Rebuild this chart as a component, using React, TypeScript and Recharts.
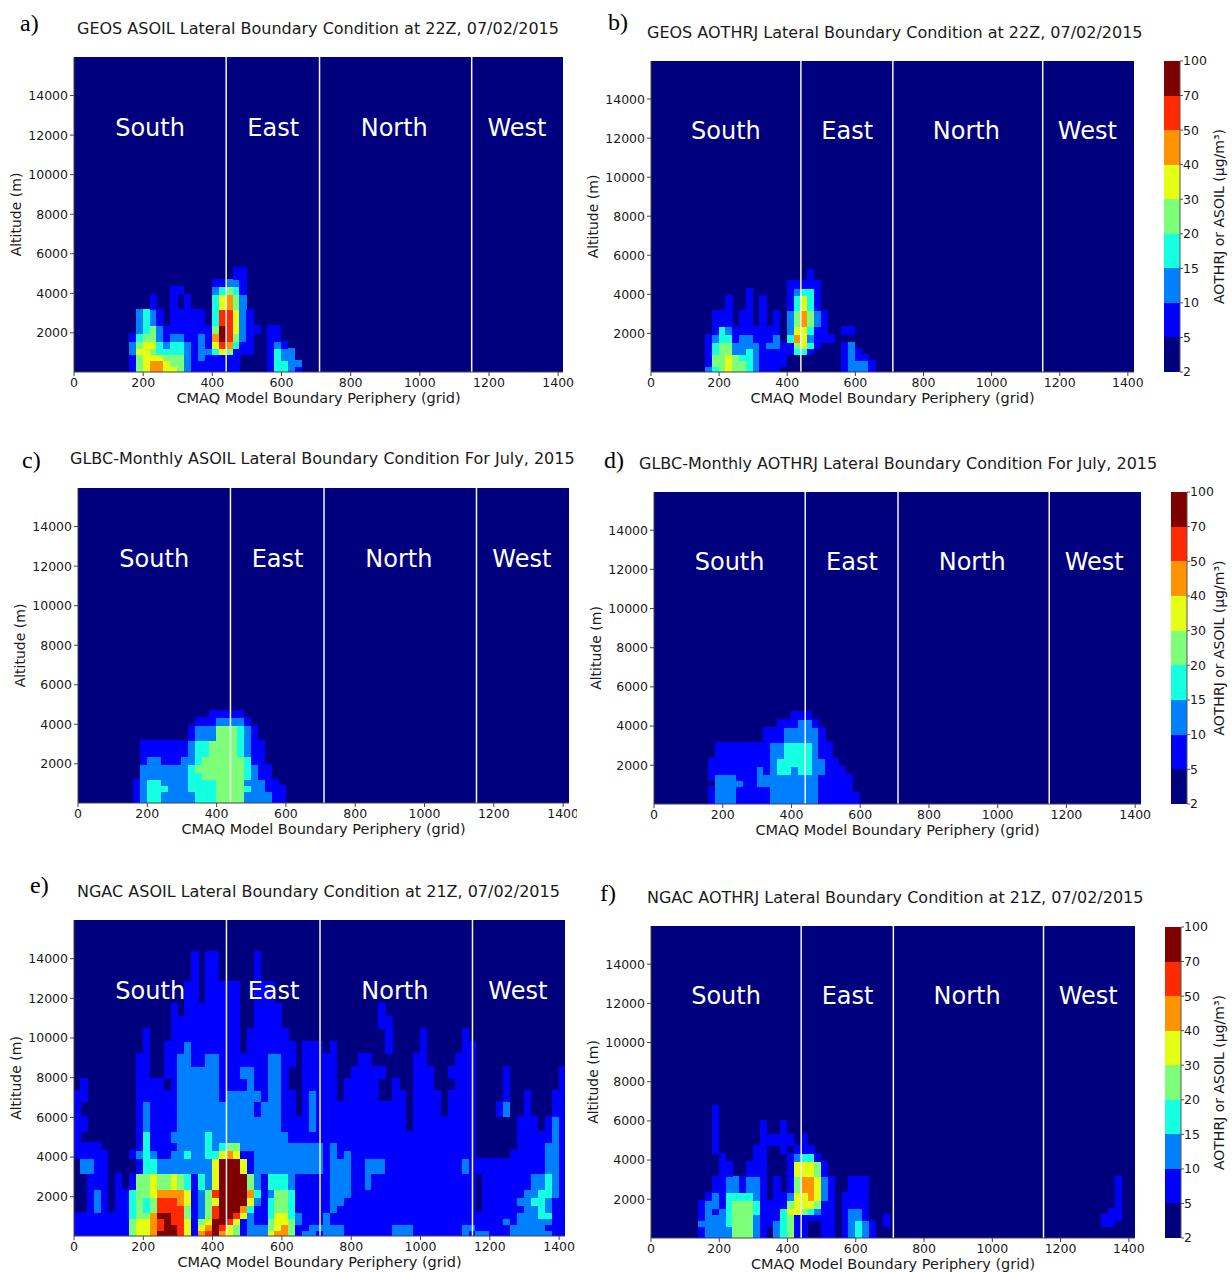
import React from 'react'
import { Bar, BarChart, CartesianGrid, Cell, ReferenceDot, ReferenceLine, XAxis, YAxis } from 'recharts'

type Row = (number | string)[]

// jet bins of the colour bar, 2-5 up to 70-100
const binColors = ['#00007f', '#0000ff', '#0080ff', '#15ffe1', '#7dff7a', '#e4ff13', '#ff9400', '#ff2a00', '#7f0000']
const binLabels = ['2', '5', '10', '15', '20', '30', '40', '50', '70', '100']

const altTicks = [2000, 4000, 6000, 8000, 10000, 12000, 14000]
const gridTicks = [0, 200, 400, 600, 800, 1000, 1200, 1400]
const sideLines = [440, 710, 1150]
const sideNames = ['South', 'East', 'North', 'West']
const sideCenters = [220, 576, 926, 1281]

// model layer thickness (m), from the ground up
const layerHeights = [300, 300, 300, 300, 350, 400, 400, 810, 755, 405, 400, 560, 750, 760, 550, 610, 600, 650, 600, 670, 600, 660, 1110, 1510]
// grid columns, 20 cells wide
const gridBins = [10, 30, 50, 70, 90, 110, 130, 150, 170, 190, 210, 230, 250, 270, 290, 310, 330, 350, 370, 390, 410, 430, 450, 470, 490, 510, 530, 550, 570, 590, 610, 630, 650, 670, 690, 710, 730, 750, 770, 790, 810, 830, 850, 870, 890, 910, 930, 950, 970, 990, 1010, 1030, 1050, 1070, 1090, 1110, 1130, 1150, 1170, 1190, 1210, 1230, 1250, 1270, 1290, 1310, 1330, 1350, 1370, 1390, 1410]

// each row is one layer: start column, then colour bins of the columns that follow
const geosAsoil: Row[] = [
  [8, '1456655421111111', 28, '13321'],
  [8, '1456654421111111', 28, '13322'],
  [8, '1455544421211111', 28, '1322'],
  [8, '255433332122 354111', 28, '1322'],
  [8, '245532332121 576311', 28, '121'],
  [8, '134421221121 687421', 28, '11'],
  [8, '023421111111 4875211', 28, '11'],
  [8, '023210111110 377521'],
  [11, '100101000 35642'],
  [14, '110000 23431'],
  [20, '11221'],
  [23, '11'],
]
const geosAothrj: Row[] = [
  [8, '23454432111', 28, '12221'],
  [8, '144544321111', 28, '12221'],
  [8, '144543321111', 28, '1211'],
  [8, '1344223211111331', 28, '121'],
  [8, '13442222122114531', 28, '12'],
  [8, '1233122111203652111'],
  [9, '13211111110255311', 28, '11'],
  [9, '11101101010246421'],
  [11, '10010100013531'],
  [14, '10000012331'],
  [20, '11111'],
  [23, '1'],
]
const glbcAsoil: Row[] = [
  [8, '1233222223334444222211'],
  [8, '1233222223334444222211'],
  [8, '1233322233334444322111'],
  [8, '1233222233334444 22211'],
  [9, '2222222 33 444444 3211'],
  [9, '2222222 34 444444 3211'],
  [9, '122111223444444311'],
  [9, '111111123344443211'],
  [16, '1222444321'],
  [17, '11122221'],
  [19, '11111'],
]
const glbcAothrj: Row[] = [
  [8, '122211111 2222222 111111'],
  [8, '122211111 2222222 111111'],
  [8, '122211111 2222222 11111'],
  [9, '22221122 2222222 11111'],
  [8, '122211122 2222222 11111'],
  [8, '1111111 21 233233 22 111'],
  [8, '111111111 2 33333 22 11'],
  [9, '11111111 22 3333 2 11'],
  [16, '111222221'],
  [18, '111221'],
  [20, '111'],
]
const ngacAsoil: Row[] = [
  [0, '11111111 455688875 1 678654 1 222 5664 1 22 1 222 1111111 222 1111111 2 1 22 111 222222 11'],
  [0, '11111111 455678875 1 568754 1 222 4564 1 12 2 222 1111111 222 1111111 2 2 11 111 222221 11'],
  [0, '11111111 455678775 1 458875 1 211 4554 2 11 1 211 1111111 111 1111111 1 1 11 112 122222 11'],
  [0, '11111111 344688774 1 247887 5 211 3553 2 11 1 211 1111111 111 1111111 1 1 11 111 122233 11'],
  [0, '00121011 343477774 1 247888 6 311 3443 1 11 1 121 1111111 111 1111111 1 1 01 111 112232 11'],
  [0, '00121011 343477765 1 245888 8 521 3443 1 11 1 122 1111111 111 1111111 1 1 01 111 122332 11'],
  [0, '00121011 344566665 1 247888 8 631 2443 1 11 1 122 2111111 111 1111111 1 1 01 111 112233 21'],
  [0, '00111010 144544543 1 325888 8 421 3332 1 11 1 122 2112111 111 1111111 1 1 01 111 111223 21'],
  [0, '02211000 013322222 2 225888 5 122 2222 2 22 2 122 2112221 111 1111111 2 1 11 111 111112 21'],
  [0, '11111000 123211223 2 233565 1 122 2222 2 22 2 121 2111111 111 1111111 1 1 00 000 111112 21'],
  [0, '11110000 013111122 2 232344 2 222 2222 2 22 2 121 1111111 111 1111111 1 1 00 000 011112 21'],
  [0, '10000000 013111222 2 232222 2 222 2221 1 11 1 111 1111111 111 1111111 1 1 00 000 011111 21'],
  [0, '11000000 012111122 2 222222 2 222 2211 1 12 1 111 1111111 110 1111111 1 1 00 000 011101 21'],
  [0, '10000000 012111122 2 222222 2 212 2211 0 12 1 111 1111111 110 1111011 1 1 00 012 001000 11'],
  [0, '11000000 011111122 2 222122 2 221 2211 0 12 1 110 1111100 110 1111011 1 1 00 001 001000 11'],
  [0, '01000000 011110122 2 222111 1 211 2210 0 11 1 110 1111100 100 1110001 1 1 00 001 000000 01'],
  [0, '00000000 011001122 2 222111 2 211 2210 0 11 1 110 0111110 000 1110011 1 1 00 001 000000 01'],
  [0, '00000000 011001122 1 122111 1 111 2211 0 11 1 110 0011000 000 1100001 1 1'],
  [0, '00000000 001001112 1 111111 0 111 1111 0 11 1 010 0000001 000 0100000 1 1'],
  [0, '00000000 001000111 1 111111 0 111 1110 0 00 0 000 0000001 000 0100000 1'],
  [0, '00000000 000000111 1 111111 0 011 1100 0 00 0 000 0000011'],
  [0, '00000000 000000101 1 111111 0 011 1100 0 00 0 000 0000010'],
  [0, '00000000 000000001 1 011111 0 011 1000'],
  [17, '1011000001'],
]
const ngacAothrj: Row[] = [
  [7, '1222244421 0 23411 00 11 0 12321'],
  [7, '1222244421 0 23411 00 11 0 12321'],
  [7, '2222344421 1 23411 00 11 0 12321', 34, '1', 66, '11'],
  [7, '1222344421 1 13411 11 11 0 1221', 34, '1', 66, '111'],
  [7, '1212344431 1 13554 32 11 0 1221', 67, '11'],
  [7, '1221344431 1 11455 54 11 0 1111', 68, '1'],
  [7, '0121333321 0 11255 65 21 0 1111', 68, '1'],
  [9, '11221221 0 1 0 14665 21 00 111', 68, '1'],
  [10, '11 00 111 000 155541'],
  [10, '1 0000 11 000 12331'],
  [9, '1 00000 11 00 1 0 111'],
  [9, '1 000000 11111 0 1'],
  [9, '1 000000 1 00 1'],
  [9, '1'],
]

const panels = [
  { title: 'GEOS ASOIL Lateral Boundary Condition at 22Z, 07/02/2015', tag: 'a)', rows: geosAsoil, left: 74, right: 563, top: 57, bottom: 372, maxX: 1414, titleX: 77, titleY: 20, tagX: 20, tagY: 9, clipRight: 0 },
  { title: 'GEOS AOTHRJ Lateral Boundary Condition at 22Z, 07/02/2015', tag: 'b)', rows: geosAothrj, left: 651, right: 1134, top: 61, bottom: 372, maxX: 1418, titleX: 647, titleY: 24, tagX: 608, tagY: 8, clipRight: 0 },
  { title: 'GLBC-Monthly ASOIL Lateral Boundary Condition For July, 2015', tag: 'c)', rows: glbcAsoil, left: 78, right: 569, top: 488, bottom: 803, maxX: 1417, titleX: 70, titleY: 450, tagX: 22, tagY: 446, clipRight: 577 },
  { title: 'GLBC-Monthly AOTHRJ Lateral Boundary Condition For July, 2015', tag: 'd)', rows: glbcAothrj, left: 654, right: 1141, top: 492, bottom: 804, maxX: 1417, titleX: 639, titleY: 455, tagX: 604, tagY: 446, clipRight: 0 },
  { title: 'NGAC ASOIL Lateral Boundary Condition at 21Z, 07/02/2015', tag: 'e)', rows: ngacAsoil, left: 74, right: 565, top: 920, bottom: 1236, maxX: 1417, titleX: 77, titleY: 883, tagX: 30, tagY: 871, clipRight: 0 },
  { title: 'NGAC AOTHRJ Lateral Boundary Condition at 21Z, 07/02/2015', tag: 'f)', rows: ngacAothrj, left: 651, right: 1135, top: 926, bottom: 1238, maxX: 1418, titleX: 647, titleY: 889, tagX: 600, tagY: 879, clipRight: 0 },
]

const colorBars = [
  { left: 1164, top: 61, bottom: 372 },
  { left: 1171, top: 492, bottom: 804 },
  { left: 1165, top: 927, bottom: 1238 },
]

const font = 'DejaVu Sans'
const textColor = '#1a1a1a'

// expand the short rows into one colour bin per grid column
function expandRow(row: Row) {
  const out = gridBins.map(() => 0)
  for (let i = 0; i < row.length; i += 2) {
    const digits = String(row[i + 1]).replace(/ /g, '')
    digits.split('').forEach((d, n) => {
      out[Number(row[i]) + n] = Number(d)
    })
  }
  return out
}

const columnTable = gridBins.map((x) => {
  const item: Record<string, number> = { x }
  layerHeights.forEach((h, i) => {
    item[`h${i}`] = h
  })
  return item
})

const Panel = ({ p }: { p: (typeof panels)[number] }) => {
  const plotW = p.right - p.left
  const plotH = p.bottom - p.top
  const axisW = 70
  const rightSpace = p.clipRight ? p.clipRight - p.right : 12
  const levels = p.rows.map(expandRow)
  return (
    <div style={{ position: 'absolute', left: p.left - axisW, top: p.top - 5 }}>
      <BarChart
        width={axisW + plotW + rightSpace}
        height={plotH + 5 + 42}
        data={columnTable}
        margin={{ top: 5, right: rightSpace, bottom: 0, left: 0 }}
        barGap={0}
      >
        <CartesianGrid fill={binColors[0]} horizontal={false} vertical={false} />
        <XAxis
          dataKey='x'
          type='number'
          domain={[0, p.maxX]}
          ticks={gridTicks}
          allowDataOverflow
          height={42}
          interval={0}
          tickSize={4}
          tick={{ fill: textColor, fontSize: 12.5 }}
          stroke='#444444'
          label={{ value: 'CMAQ Model Boundary Periphery (grid)', position: 'insideBottom', offset: 11, fill: textColor, fontSize: 14.5 }}
        />
        <YAxis
          type='number'
          domain={[20, 15950]}
          ticks={altTicks}
          allowDataOverflow
          width={axisW}
          interval={0}
          tickSize={4}
          tick={{ fill: textColor, fontSize: 12.5 }}
          stroke='#444444'
          label={{ value: 'Altitude (m)', angle: -90, position: 'insideLeft', offset: 12, fill: textColor, fontSize: 14, style: { textAnchor: 'middle' } }}
        />
        {levels.map((rowLevels, r) => (
          <Bar
            key={r}
            dataKey={`h${r}`}
            stackId='layers'
            barSize={(plotW / p.maxX) * 20}
            isAnimationActive={false}
            shapeRendering='crispEdges'
          >
            {rowLevels.map((lv, k) => (
              <Cell key={k} fill={lv ? binColors[lv] : 'none'} stroke={lv ? binColors[lv] : 'none'} strokeWidth={1} />
            ))}
          </Bar>
        ))}
        {sideLines.map((x) => (
          <ReferenceLine key={x} x={x} stroke='#f4f4f4' strokeWidth={1.5} />
        ))}
        {sideNames.map((name, i) => (
          <ReferenceDot
            key={name}
            x={sideCenters[i]}
            y={12400}
            r={0}
            label={{ value: name, position: 'center', fill: '#ffffff', fontSize: 24 }}
          />
        ))}
      </BarChart>
    </div>
  )
}

const barKeys = binColors.map((_, i) => `b${i}`)
const barRow = [Object.fromEntries([['c', ''], ...barKeys.map((k) => [k, 1])])]

const ColorBar = ({ c }: { c: (typeof colorBars)[number] }) => {
  const barW = 16
  const chartW = 1232 - c.left
  return (
    <div style={{ position: 'absolute', left: c.left, top: c.top - 10 }}>
      <BarChart
        width={chartW}
        height={c.bottom - c.top + 20}
        data={barRow}
        margin={{ top: 10, right: 0, bottom: 10, left: 0 }}
        barCategoryGap={0}
      >
        <XAxis dataKey='c' hide />
        <YAxis
          orientation='right'
          type='number'
          domain={[0, 9]}
          ticks={[0, 1, 2, 3, 4, 5, 6, 7, 8, 9]}
          tickFormatter={(v: number) => binLabels[v]}
          width={chartW - barW}
          interval={0}
          tickSize={3}
          tickMargin={0}
          tick={{ fill: textColor, fontSize: 12.5 }}
          stroke='#555555'
          label={{ value: 'AOTHRJ or ASOIL (μg/m³)', angle: -90, position: 'insideRight', offset: 13, fill: textColor, fontSize: 14, style: { textAnchor: 'middle' } }}
        />
        {barKeys.map((k, i) => (
          <Bar key={k} dataKey={k} stackId='bar' fill={binColors[i]} isAnimationActive={false} shapeRendering='crispEdges' />
        ))}
      </BarChart>
    </div>
  )
}

const App = () => {
  return (
    <div style={{ position: 'absolute', left: 0, top: 0, width: 1232, height: 1272, overflow: 'hidden', background: '#ffffff', fontFamily: font }}>
      {panels.map((p) => (
        <React.Fragment key={p.tag}>
          <Panel p={p} />
          <div style={{ position: 'absolute', left: p.titleX, top: p.titleY, fontSize: 16, lineHeight: '18px', color: textColor, whiteSpace: 'nowrap' }}>{p.title}</div>
          <div style={{ position: 'absolute', left: p.tagX, top: p.tagY, fontFamily: 'Liberation Serif', fontSize: 24, lineHeight: '28px', color: '#000000' }}>{p.tag}</div>
        </React.Fragment>
      ))}
      {colorBars.map((c) => (
        <ColorBar key={c.left} c={c} />
      ))}
    </div>
  )
}

export default App
